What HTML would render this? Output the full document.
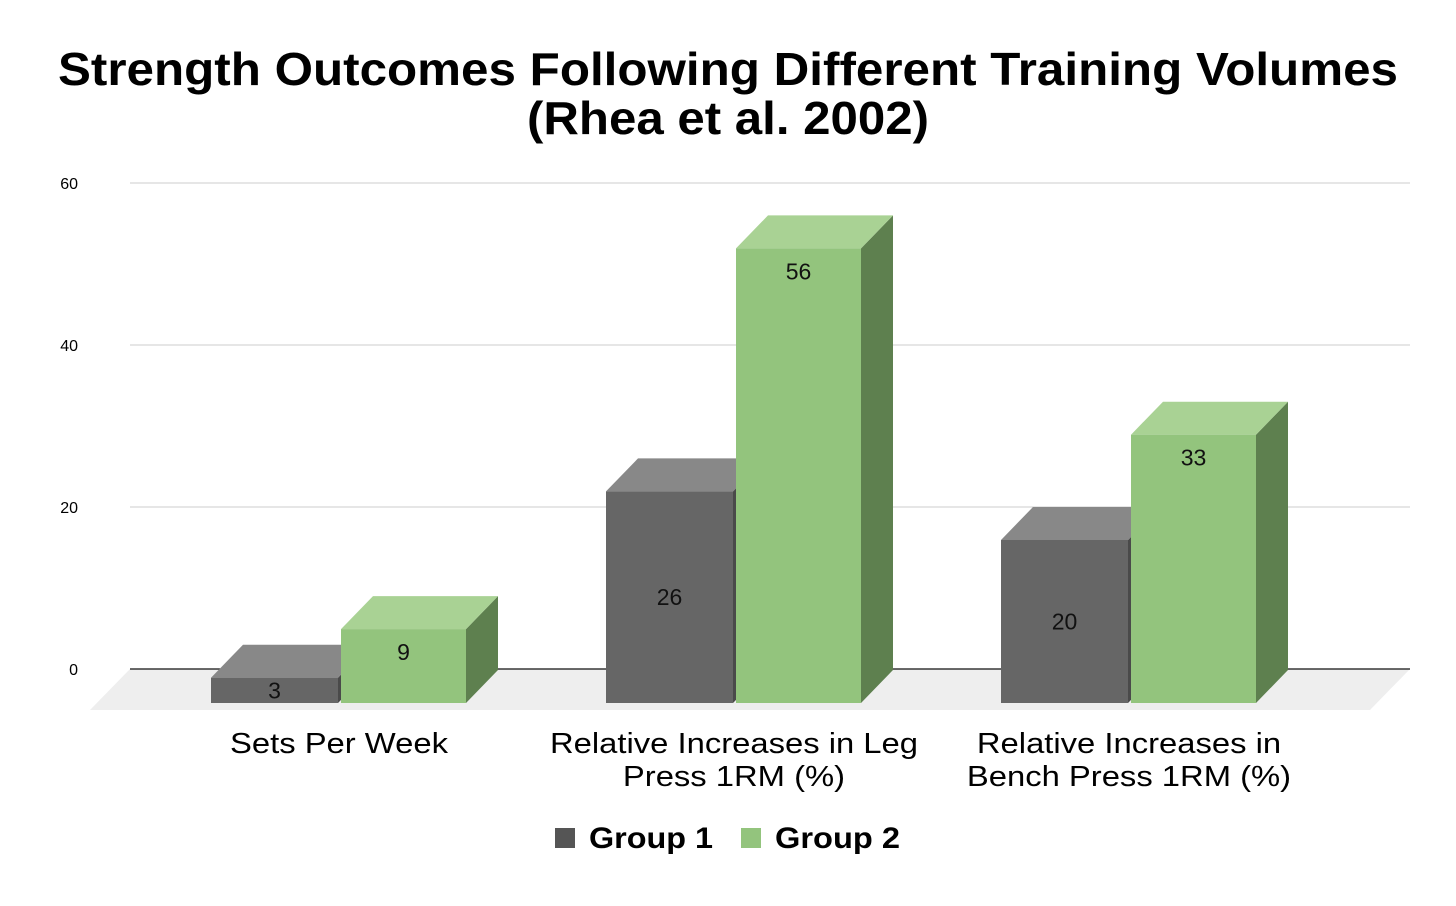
<!DOCTYPE html>
<html><head><meta charset="utf-8"><style>
body{margin:0;background:#fff;font-family:"Liberation Sans",sans-serif}
svg text{font-family:"Liberation Sans",sans-serif}
</style></head><body>
<svg id="chart" width="1456" height="901" xmlns="http://www.w3.org/2000/svg">
<text x="728" y="85" text-anchor="middle" font-size="46" font-weight="bold" textLength="1340" lengthAdjust="spacingAndGlyphs">Strength Outcomes Following Different Training Volumes</text>
<text x="728" y="134" text-anchor="middle" font-size="46" font-weight="bold" textLength="402" lengthAdjust="spacingAndGlyphs">(Rhea et al. 2002)</text>
<polygon points="130,669 1410,669 1370,710 90,710" fill="#eeeeee"/>
<g id="grid"></g>
<g id="bars"></g>
<g id="cats"></g>
<g>
<rect x="555" y="828" width="20" height="20" fill="#555555"/>
<text x="589" y="848" font-size="30" font-weight="bold" textLength="124" lengthAdjust="spacingAndGlyphs">Group 1</text>
<rect x="741" y="828" width="20" height="20" fill="#93c47d"/>
<text x="775" y="848" font-size="30" font-weight="bold" textLength="125" lengthAdjust="spacingAndGlyphs">Group 2</text>
</g>
</svg>
<script>
const categories=[["Sets Per Week"],["Relative Increases in Leg","Press 1RM (%)"],["Relative Increases in","Bench Press 1RM (%)"]];
const group1=[3,26,20];
const group2=[9,56,33];
const yTicks=[0,20,40,60];
const NS="http://www.w3.org/2000/svg";
const y0=669,pxPer=8.1,dx=32,dy=33;
const y=v=>y0-v*pxPer;
function mk(t,a,p){const e=document.createElementNS(NS,t);for(const k in a)e.setAttribute(k,a[k]);p.appendChild(e);return e;}
const grid=document.getElementById('grid'),bars=document.getElementById('bars'),cats=document.getElementById('cats');
yTicks.forEach(t=>{
 const l=mk('line',{x1:130,x2:1410,y1:y(t),y2:y(t),stroke:t===0?'#111':'#cccccc','stroke-width':t===0?1.3:1},grid);
 
 
 const tx=mk('text',{x:78,y:y(t)+6,'text-anchor':'end','font-size':16},grid);tx.textContent=t;
 
 
});
function bar(x,w,v,front,top,side,name,labelMid){
 const ft=y(v)+dy,fb=y0+34;
 const g=mk('g',{},bars);
 
 
 mk('polygon',{points:`${x+w},${ft} ${x+w+dx},${ft-dy} ${x+w+dx},${fb-dy} ${x+w},${fb}`,fill:side},g);
 mk('polygon',{points:`${x},${ft} ${x+dx},${ft-dy} ${x+w+dx},${ft-dy} ${x+w},${ft}`,fill:top},g);
 mk('rect',{x:x,y:ft,width:w,height:fb-ft,fill:front},g);
 const ly=labelMid?(ft+fb)/2+8:ft+31;
 const t=mk('text',{x:x+w/2,y:ly,'text-anchor':'middle','font-size':23,fill:'#111'},g);t.textContent=v;
}
categories.forEach((c,i)=>{
 const base=211+i*395;
 bar(base,127,group1[i],'#666666','#888888','#4a4a4a','bar-group1-'+i,true);
 bar(base+130,125,group2[i],'#93c47d','#a9d294','#5e804f','bar-group2-'+i,false);
 const cx=base+128;
 c.forEach((line,j)=>{
  const t=mk('text',{x:cx,y:753+j*33,'text-anchor':'middle','font-size':29},cats);t.textContent=line;
  
  
  const L=t.getComputedTextLength();
  t.setAttribute('textLength',(L*1.13).toFixed(1));
  t.setAttribute('lengthAdjust','spacingAndGlyphs');
 });
});
</script>
</body></html>
